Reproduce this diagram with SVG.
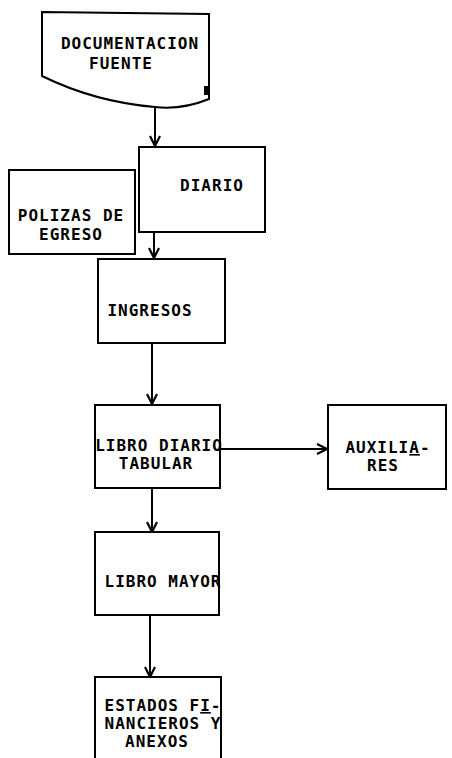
<svg xmlns="http://www.w3.org/2000/svg" width="452" height="758" viewBox="0 0 452 758">
<defs>
<style>
.box{fill:#fff;stroke:#000;stroke-width:2}
.t{font-family:"DejaVu Sans Mono","Liberation Mono",monospace;font-weight:bold;font-size:16px;letter-spacing:1px;fill:#000}
.c{stroke:#000;stroke-width:2;fill:none}
</style>
<marker id="ah" viewBox="0 0 12 12" refX="11" refY="6" markerWidth="12" markerHeight="12" markerUnits="userSpaceOnUse" orient="auto">
<path d="M1,1 L11,6 L1,11" fill="none" stroke="#000" stroke-width="2.2"/>
</marker>
</defs>
<rect width="452" height="758" fill="#fff"/>
<g id="connectors">
<line class="c" x1="155" y1="106" x2="155" y2="146" marker-end="url(#ah)"/>
<line class="c" x1="154" y1="233" x2="154" y2="258" marker-end="url(#ah)"/>
<line class="c" x1="152" y1="344" x2="152" y2="404" marker-end="url(#ah)"/>
<line class="c" x1="220" y1="449" x2="327" y2="449" marker-end="url(#ah)"/>
<line class="c" x1="152" y1="489" x2="152" y2="532" marker-end="url(#ah)"/>
<line class="c" x1="150" y1="615" x2="150" y2="677" marker-end="url(#ah)"/>
</g>
<g id="documentacion">
<path class="box" d="M42,12 L209,14 L209,99 Q182,110 155,107 Q95,102 42,76 Z"/>
<rect x="204" y="86" width="4" height="9" fill="#000"/>
<text class="t" x="130" y="49" text-anchor="middle">DOCUMENTACION</text>
<text class="t" x="121" y="69" text-anchor="middle">FUENTE</text>
</g>
<g id="diario">
<rect class="box" x="139" y="147" width="126" height="85"/>
<text class="t" x="212" y="191" text-anchor="middle">DIARIO</text>
</g>
<g id="polizas">
<rect class="box" x="9" y="170" width="126" height="84"/>
<text class="t" x="71" y="221" text-anchor="middle">POLIZAS DE</text>
<text class="t" x="71" y="240" text-anchor="middle">EGRESO</text>
</g>
<g id="ingresos">
<rect class="box" x="98" y="259" width="127" height="84"/>
<text class="t" x="150" y="316" text-anchor="middle">INGRESOS</text>
</g>
<g id="libro-diario">
<rect class="box" x="95" y="405" width="125" height="83"/>
<text class="t" x="159" y="451" text-anchor="middle">LIBRO DIARIO</text>
<text class="t" x="156" y="469" text-anchor="middle">TABULAR</text>
</g>
<g id="auxiliares">
<rect class="box" x="328" y="405" width="118" height="84"/>
<text class="t" x="388" y="453" text-anchor="middle">AUXILI<tspan text-decoration="underline">A</tspan>-</text>
<text class="t" x="383" y="471" text-anchor="middle">RES</text>
</g>
<g id="libro-mayor">
<rect class="box" x="95" y="532" width="124" height="83"/>
<text class="t" x="163" y="587" text-anchor="middle">LIBRO MAYOR</text>
</g>
<g id="estados">
<path class="box" d="M95,760 L95,677 L221,677 L221,760"/>
<text class="t" x="163" y="711" text-anchor="middle">ESTADOS F<tspan text-decoration="underline">I</tspan>-</text>
<text class="t" x="163" y="729" text-anchor="middle">NANCIEROS Y</text>
<text class="t" x="157" y="747" text-anchor="middle">ANEXOS</text>
</g>
</svg>
